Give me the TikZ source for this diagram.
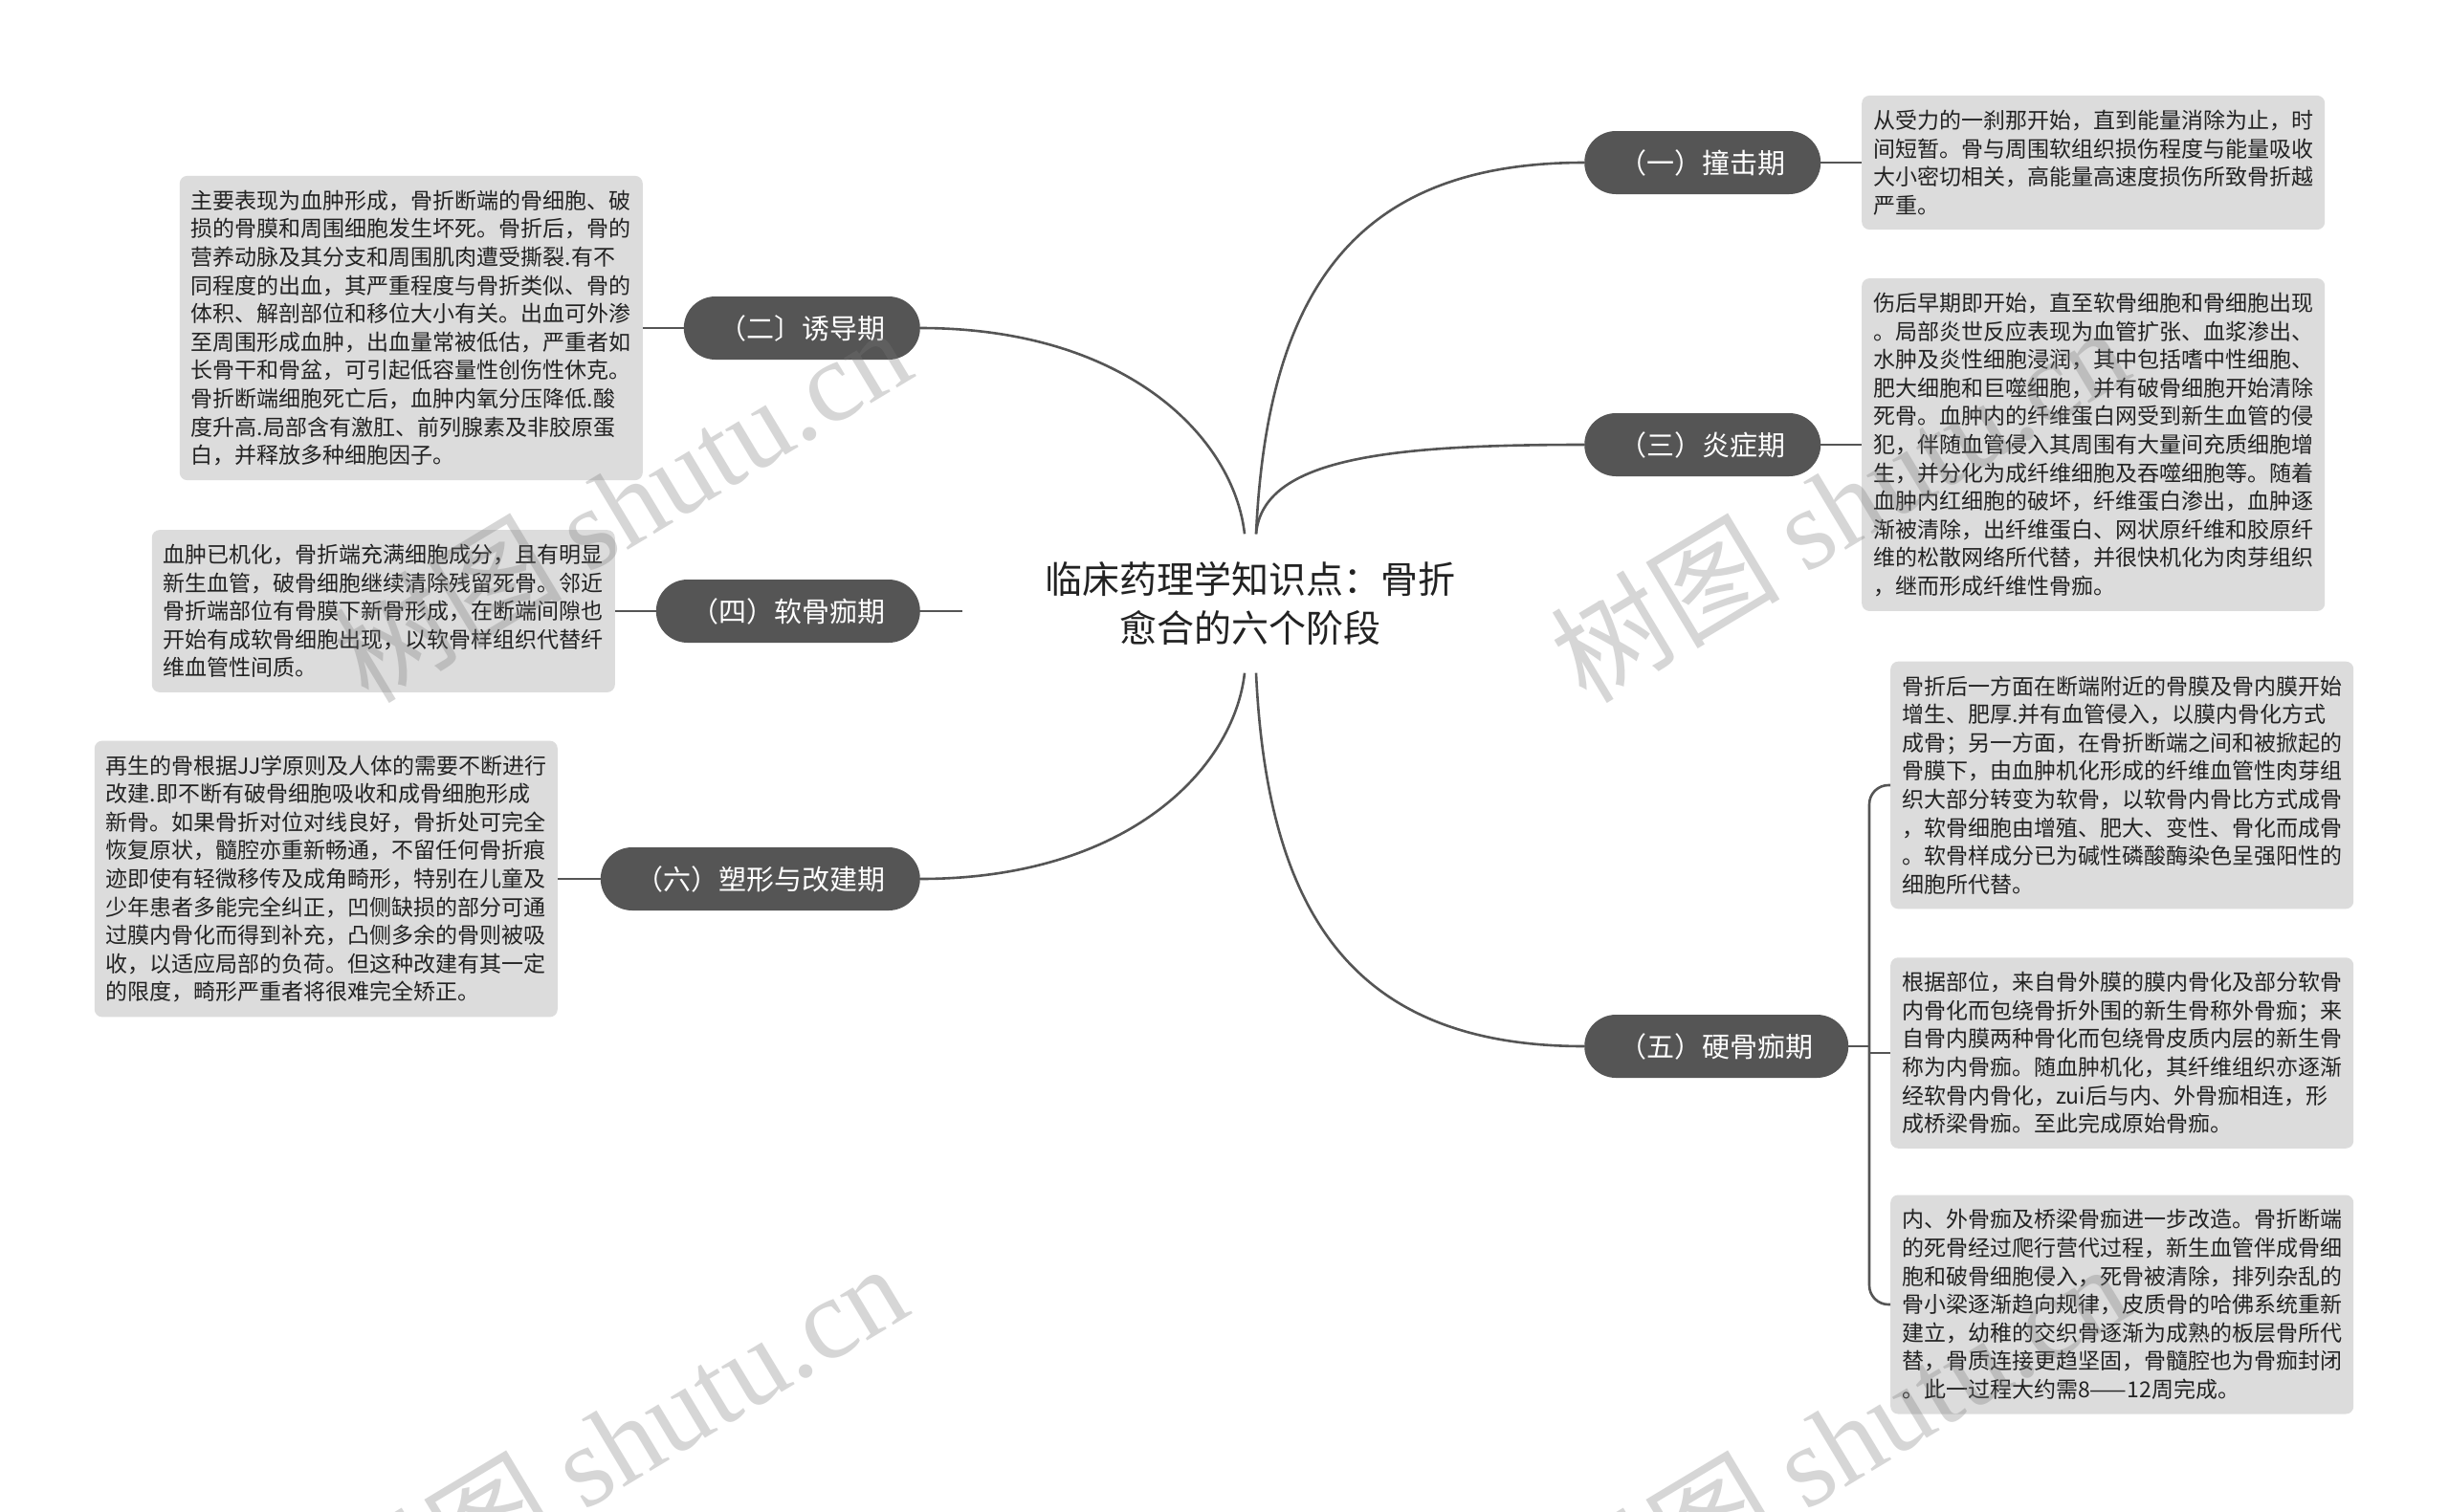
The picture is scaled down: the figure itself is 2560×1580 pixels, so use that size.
\documentclass[tikz,border=0pt]{standalone}
\usepackage{fontspec}
\setmainfont{Noto Sans CJK SC}
\newfontfamily\wmfont{Liberation Serif}
\definecolor{pillc}{HTML}{555555}
\definecolor{boxc}{HTML}{DCDCDC}
\definecolor{linec}{HTML}{555555}
\definecolor{txtc}{HTML}{222222}
\definecolor{wmc}{HTML}{787878}
\begin{document}
\begin{tikzpicture}[x=1pt,y=-1pt,
  pill/.style={fill=pillc, text=white, rounded corners=33pt, minimum height=66pt,
    inner xsep=36.5pt, inner ysep=0pt, font=\fontsize{29}{35}\selectfont},
  detail/.style={fill=boxc, text=txtc, rounded corners=8pt, text width=460pt,
    align=left, inner xsep=12pt, inner ysep=15pt, font=\fontsize{23}{29.6}\selectfont},
  conn/.style={draw=linec, line width=2.6pt},
  wm/.style={text=wmc, text opacity=0.3, rotate=31, inner sep=0pt,
    font=\fontsize{120}{130}\selectfont}]
\fill[white] (0,0) rectangle (2560,1580);
\useasboundingbox (0,0) rectangle (2560,1580);

% centre
\node[font=\fontsize{39}{51}\selectfont, align=center, text=txtc,
  minimum height=145pt, inner sep=0pt] (ctr) at (1307,631)
  {临床药理学知识点：骨折\\愈合的六个阶段};
\coordinate (ctl) at ([xshift=-6pt]ctr.north);
\coordinate (ctr2) at ([xshift=6pt]ctr.north);
\coordinate (cbl) at ([xshift=-6pt]ctr.south);
\coordinate (cbr) at ([xshift=6pt]ctr.south);

% pills
\node[pill, anchor=west] (p1) at (1656,170) {（一）撞击期};
\node[pill, anchor=west] (p3) at (1656,465) {（三）炎症期};
\node[pill, anchor=west] (p5) at (1656,1094) {（五）硬骨痂期};
\node[pill, anchor=east] (p2) at (962,343) {（二〕诱导期};
\node[pill, anchor=east] (p4) at (962,639) {（四）软骨痂期};
\node[pill, anchor=east] (p6) at (962,919) {（六）塑形与改建期};

% detail boxes
\node[detail, anchor=west] (b1) at (1946,170) {%
从受力的一刹那开始，直到能量消除为止，时\\%
间短暂。骨与周围软组织损伤程度与能量吸收\\%
大小密切相关，高能量高速度损伤所致骨折越\\%
严重。};
\node[detail, anchor=west] (b3) at (1946,465) {%
伤后早期即开始，直至软骨细胞和骨细胞出现\\%
。局部炎世反应表现为血管扩张、血浆渗出、\\%
水肿及炎性细胞浸润，其中包括嗜中性细胞、\\%
肥大细胞和巨噬细胞，并有破骨细胞开始清除\\%
死骨。血肿内的纤维蛋白网受到新生血管的侵\\%
犯，伴随血管侵入其周围有大量间充质细胞增\\%
生，并分化为成纤维细胞及吞噬细胞等。随着\\%
血肿内红细胞的破坏，纤维蛋白渗出，血肿逐\\%
渐被清除，出纤维蛋白、网状原纤维和胶原纤\\%
维的松散网络所代替，并很快机化为肉芽组织\\%
，继而形成纤维性骨痂。};
\node[detail, anchor=east] (b2) at (672,343) {%
主要表现为血肿形成，骨折断端的骨细胞、破\\%
损的骨膜和周围细胞发生坏死。骨折后，骨的\\%
营养动脉及其分支和周围肌肉遭受撕裂.有不\\%
同程度的出血，其严重程度与骨折类似、骨的\\%
体积、解剖部位和移位大小有关。出血可外渗\\%
至周围形成血肿，出血量常被低估，严重者如\\%
长骨干和骨盆，可引起低容量性创伤性休克。\\%
骨折断端细胞死亡后，血肿内氧分压降低.酸\\%
度升高.局部含有激肛、前列腺素及非胶原蛋\\%
白，并释放多种细胞因子。};
\node[detail, anchor=east] (b4) at (643,639) {%
血肿已机化，骨折端充满细胞成分，且有明显\\%
新生血管，破骨细胞继续清除残留死骨。邻近\\%
骨折端部位有骨膜下新骨形成，在断端间隙也\\%
开始有成软骨细胞出现，以软骨样组织代替纤\\%
维血管性间质。};
\node[detail, anchor=east] (b6) at (583,919) {%
再生的骨根据JJ学原则及人体的需要不断进行\\%
改建.即不断有破骨细胞吸收和成骨细胞形成\\%
新骨。如果骨折对位对线良好，骨折处可完全\\%
恢复原状，髓腔亦重新畅通，不留任何骨折痕\\%
迹即使有轻微移传及成角畸形，特别在儿童及\\%
少年患者多能完全纠正，凹侧缺损的部分可通\\%
过膜内骨化而得到补充，凸侧多余的骨则被吸\\%
收，以适应局部的负荷。但这种改建有其一定\\%
的限度，畸形严重者将很难完全矫正。};
\node[detail, anchor=west] (b5a) at (1976,821) {%
骨折后一方面在断端附近的骨膜及骨内膜开始\\%
增生、肥厚.并有血管侵入，以膜内骨化方式\\%
成骨；另一方面，在骨折断端之间和被掀起的\\%
骨膜下，由血肿机化形成的纤维血管性肉芽组\\%
织大部分转变为软骨，以软骨内骨比方式成骨\\%
，软骨细胞由增殖、肥大、变性、骨化而成骨\\%
。软骨样成分已为碱性磷酸酶染色呈强阳性的\\%
细胞所代替。};
\node[detail, anchor=west] (b5b) at (1976,1101) {%
根据部位，来自骨外膜的膜内骨化及部分软骨\\%
内骨化而包绕骨折外围的新生骨称外骨痂；来\\%
自骨内膜两种骨化而包绕骨皮质内层的新生骨\\%
称为内骨痂。随血肿机化，其纤维组织亦逐渐\\%
经软骨内骨化，zui后与内、外骨痂相连，形\\%
成桥梁骨痂。至此完成原始骨痂。};
\node[detail, anchor=west] (b5c) at (1976,1364) {%
内、外骨痂及桥梁骨痂进一步改造。骨折断端\\%
的死骨经过爬行营代过程，新生血管伴成骨细\\%
胞和破骨细胞侵入，死骨被清除，排列杂乱的\\%
骨小梁逐渐趋向规律，皮质骨的哈佛系统重新\\%
建立，幼稚的交织骨逐渐为成熟的板层骨所代\\%
替，骨质连接更趋坚固，骨髓腔也为骨痂封闭\\%
。此一过程大约需8——12周完成。};

% centre connectors
\draw[conn] (p2.east) .. controls +(218,0) and +(-11,-99) .. (ctl);
\draw[conn] (p6.east) .. controls +(218,0) and +(-11,99) .. (cbl);
\draw[conn] (ctr2) .. controls +(12,-259) and +(-236,0) .. (p1.west);
\draw[conn] (ctr2) .. controls +(7,-79) and +(-206,0) .. (p3.west);
\draw[conn] (cbr) .. controls +(12,259) and +(-236,0) .. (p5.west);
\coordinate (s4) at (1006,639);
\draw[conn] (p4.east) -- (s4);

% box connectors
\draw[conn] (p1.east) -- (b1.west);
\draw[conn] (p3.east) -- (b3.west);
\draw[conn] (b2.east) -- (p2.west);
\draw[conn] (b4.east) -- (p4.west);
\draw[conn] (b6.east) -- (p6.west);
\coordinate (j5) at (1954,1094);
\draw[conn] (p5.east) -- (j5);
\draw[conn, rounded corners=20pt] (b5a.west) -| (j5) |- (b5c.west);
\draw[conn] (b5b.west) -| (j5);

% watermarks
\node[wm] (w1) at (649,526) {树图 {\wmfont shutu.cn}};
\node[wm] (w2) at (1922,526) {树图 {\wmfont shutu.cn}};
\node[wm] (w3) at (645,1506) {树图 {\wmfont shutu.cn}};
\node[wm] (w4) at (1922,1506) {树图 {\wmfont shutu.cn}};
\end{tikzpicture}
\end{document}
